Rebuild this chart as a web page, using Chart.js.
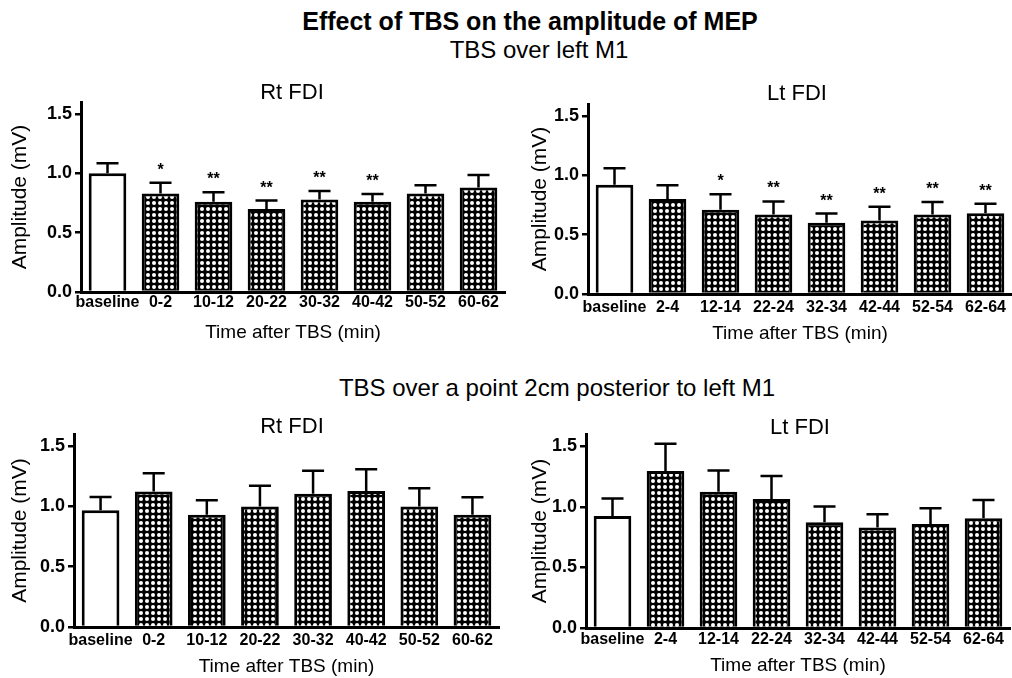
<!DOCTYPE html>
<html><head><meta charset="utf-8">
<script src="https://cdn.jsdelivr.net/npm/chart.js@4"></script>
<style>
html,body{margin:0;padding:0;background:#fff;}
body{width:1012px;height:678px;overflow:hidden;position:relative;font-family:"Liberation Sans",Arial,sans-serif;color:#000;}
.t{position:absolute;white-space:nowrap;line-height:1;transform:translateX(-50%);}
.wrap{position:absolute;}
</style></head><body>
<script>
// ---------- DATA ----------
const timeLabelsRt = ['baseline','0-2','10-12','20-22','30-32','40-42','50-52','60-62'];
const timeLabelsLt = ['baseline','2-4','12-14','22-24','32-34','42-44','52-54','62-64'];
const yTickValues = [0, 0.5, 1.0, 1.5];

const m1RtMean = [1.00, 0.83, 0.76, 0.70, 0.78, 0.76, 0.83, 0.88];
const m1RtSem  = [0.085, 0.09, 0.08, 0.07, 0.07, 0.065, 0.07, 0.105];
const m1RtSig  = ['', '*', '**', '**', '**', '**', '', ''];

const m1LtMean = [0.92, 0.80, 0.71, 0.67, 0.60, 0.62, 0.67, 0.68];
const m1LtSem  = [0.14, 0.115, 0.13, 0.11, 0.077, 0.115, 0.105, 0.08];
const m1LtSig  = ['', '', '*', '**', '**', '**', '**', '**'];

const postRtMean = [0.967, 1.124, 0.931, 1.00, 1.105, 1.127, 1.00, 0.931];
const postRtSem  = [0.11, 0.15, 0.12, 0.17, 0.19, 0.18, 0.15, 0.145];
const postRtSig  = ['', '', '', '', '', '', '', ''];

const postLtMean = [0.924, 1.295, 1.124, 1.064, 0.873, 0.828, 0.858, 0.905];
const postLtSem  = [0.145, 0.225, 0.175, 0.19, 0.13, 0.11, 0.13, 0.15];
const postLtSig  = ['', '', '', '', '', '', '', ''];

const mainTitle = 'Effect of TBS on the amplitude of MEP';
const sub1 = 'TBS over left M1';
const sub2 = 'TBS over a point 2cm posterior to left M1';
const xTitle = 'Time after TBS (min)';
const yTitle = 'Amplitude (mV)';

// ---------- LAYOUT ----------
const YMAX = 1.6, AXW = 80, AXH = 60, PADT = 16, PADR = 8;
Chart.defaults.font.family = '"Liberation Sans", Arial, sans-serif';
Chart.defaults.color = '#000';

function addText(txt, cx, cy, size, bold) {
  const d = document.createElement('div');
  d.className = 't';
  d.textContent = txt;
  d.style.fontSize = size + 'px';
  d.style.fontWeight = bold ? 'bold' : 'normal';
  d.style.left = cx + 'px';
  d.style.top = (cy - 0.49 * size) + 'px';
  document.body.appendChild(d);
}

function makePattern() {
  const c = document.createElement('canvas');
  c.width = 6; c.height = 6;
  const g = c.getContext('2d');
  g.fillStyle = '#000'; g.fillRect(0, 0, 6, 6);
  g.fillStyle = '#fff';
  g.beginPath(); g.arc(3, 3, 2.0, 0, Math.PI * 2); g.fill();
  return g.createPattern(c, 'repeat');
}
const dotPattern = makePattern();

function makeChart(p) {
  const plotTop = p.zero - YMAX * p.unit;
  const W = Math.round(p.right - p.left + AXW + PADR);
  const H = Math.round(p.zero - plotTop + PADT + AXH);
  const wrap = document.createElement('div');
  wrap.className = 'wrap';
  const L = p.left - AXW, T = plotTop - PADT;
  wrap.style.left = L + 'px';
  wrap.style.top = T + 'px';
  const cv = document.createElement('canvas');
  cv.width = W; cv.height = H;
  cv.style.width = W + 'px'; cv.style.height = H + 'px';
  wrap.appendChild(cv);
  document.body.appendChild(wrap);
  const ySize = 21, xSize = 19;
  const yLH = ySize * 1.2, xLH = xSize * 1.2;
  const errPlugin = {
    id: 'errbars',
    afterDatasetsDraw(chart) {
      const ctx = chart.ctx;
      const meta = chart.getDatasetMeta(0);
      const ys = chart.scales.y;
      ctx.save();
      ctx.strokeStyle = '#000'; ctx.fillStyle = '#000'; ctx.lineWidth = 2.5;
      meta.data.forEach((bar, i) => {
        const yT = ys.getPixelForValue(p.means[i] + p.sems[i]);
        const yB = ys.getPixelForValue(p.means[i]);
        ctx.beginPath();
        ctx.moveTo(bar.x, yB); ctx.lineTo(bar.x, yT);
        ctx.moveTo(bar.x - 11, yT); ctx.lineTo(bar.x + 11, yT);
        ctx.stroke();
        if (p.sig[i]) {
          ctx.font = 'bold 16px "Liberation Sans", Arial, sans-serif';
          ctx.textAlign = 'center'; ctx.textBaseline = 'alphabetic';
          ctx.fillText(p.sig[i], bar.x, yT - 17 + 9);
        }
      });
      ctx.restore();
    }
  };
  new Chart(cv, {
    type: 'bar',
    data: {
      labels: p.labels,
      datasets: [{
        data: p.means,
        backgroundColor: p.means.map((v, i) => i === 0 ? '#ffffff' : dotPattern),
        borderColor: '#000', borderWidth: 3, borderSkipped: 'bottom',
        barPercentage: 0.71, categoryPercentage: 1
      }]
    },
    options: {
      responsive: false, animation: false, devicePixelRatio: 1,
      layout: { padding: { top: PADT, right: PADR, left: 0, bottom: 0 } },
      plugins: { legend: { display: false }, tooltip: { enabled: false } },
      scales: {
        x: {
          grid: { display: false, drawTicks: false },
          border: { display: true, color: '#000', width: 3 },
          ticks: { color: '#000', font: { size: 16, weight: 'bold' }, padding: p.tickPadX, maxRotation: 0, autoSkip: false },
          title: { display: true, text: xTitle, color: '#000', font: { size: xSize },
                   padding: { top: 0, bottom: p.zero + AXH - xLH / 2 - p.xTitleCy } },
          afterFit(s) { s.height = AXH; }
        },
        y: {
          min: 0, max: YMAX,
          afterBuildTicks(s) { s.ticks = yTickValues.map(v => ({ value: v })); },
          ticks: { callback: v => Number(v).toFixed(1), color: '#000', font: { size: 18, weight: 'bold' }, padding: 3 },
          grid: { display: true, drawOnChartArea: false, drawTicks: true, tickLength: 6, color: '#000', lineWidth: 2.5 },
          border: { display: true, color: '#000', width: 3 },
          title: { display: true, text: yTitle, color: '#000', font: { size: ySize },
                   padding: { top: p.yTitleCx - L - yLH / 2, bottom: 0 } },
          afterFit(s) { s.width = AXW; }
        }
      }
    },
    plugins: [errPlugin]
  });
  addText(p.title, p.titleCx, p.titleCy, 22, false);
}

addText(mainTitle, 530, 21, 25, true);
addText(sub1, 539, 50, 24, false);
addText(sub2, 557, 388, 24, false);

makeChart({ labels: timeLabelsRt, means: m1RtMean, sems: m1RtSem, sig: m1RtSig,
  left: 81, right: 505, zero: 292, unit: 118.7, yTitleCx: 20, xTitleCy: 333, tickPadX: 1,
  title: 'Rt FDI', titleCx: 292, titleCy: 91.5 });
makeChart({ labels: timeLabelsLt, means: m1LtMean, sems: m1LtSem, sig: m1LtSig,
  left: 588, right: 1012, zero: 294.3, unit: 118.9, yTitleCx: 540, xTitleCy: 334, tickPadX: 3.5,
  title: 'Lt FDI', titleCx: 797, titleCy: 93 });
makeChart({ labels: timeLabelsRt, means: postRtMean, sems: postRtSem, sig: postRtSig,
  left: 74, right: 499, zero: 626.7, unit: 120.7, yTitleCx: 20, xTitleCy: 666.5, tickPadX: 4,
  title: 'Rt FDI', titleCx: 292, titleCy: 426 });
makeChart({ labels: timeLabelsLt, means: postLtMean, sems: postLtSem, sig: postLtSig,
  left: 586, right: 1010, zero: 628.3, unit: 121.3, yTitleCx: 540, xTitleCy: 666, tickPadX: 2,
  title: 'Lt FDI', titleCx: 800, titleCy: 427 });
</script>
</body></html>
